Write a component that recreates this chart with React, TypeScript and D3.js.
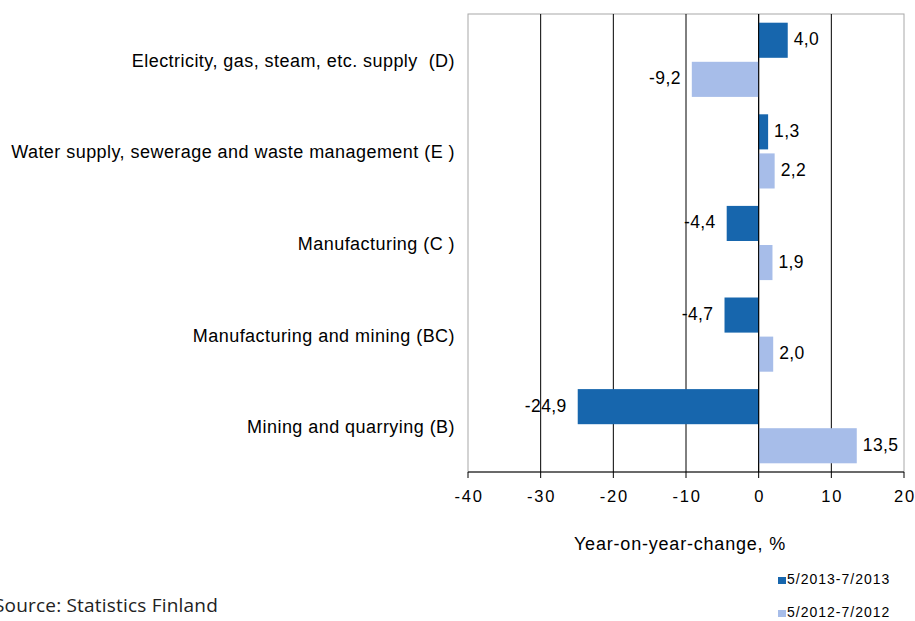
import React from "react";
import * as d3 from "d3";

const categories = [
  "Electricity, gas, steam, etc. supply  (D)",
  "Water supply, sewerage and waste management (E )",
  "Manufacturing (C )",
  "Manufacturing and mining (BC)",
  "Mining and quarrying (B)",
];
const series2013 = [4.0, 1.3, -4.4, -4.7, -24.9];
const series2012 = [-9.2, 2.2, 1.9, 2.0, 13.5];
const seriesNames = ["5/2013-7/2013", "5/2012-7/2012"];
const seriesColors = ["#1766AD", "#A7BDE9"];
const xTicks = [-40, -30, -20, -10, 0, 10, 20];

const W = 915;
const H = 621;
const left = 468;
const right = 904;
const top = 14;
const bottom = 472;
const font = "'Liberation Sans', Arial, sans-serif";

export default function App() {
  const x = d3.scaleLinear().domain([-40, 20]).range([left, right]);
  const band = d3
    .scaleBand<number>()
    .domain(d3.range(categories.length))
    .range([top, bottom])
    .paddingInner(0.19)
    .paddingOuter(0.095);
  const bw = band.bandwidth();
  const gap = 4;
  const bh = (bw - gap) / 2;
  const fmt = (v: number) => v.toFixed(1).replace(".", ",");
  const allSeries = [series2013, series2012];

  return (
    <svg
      width={W}
      height={H}
      style={{ position: "absolute", left: 0, top: 0, background: "#fff" }}
    >
      {/* frame */}
      <rect x={left} y={top} width={right - left} height={bottom - top} fill="none" stroke="#a8a8a8" strokeWidth={1} />
      {/* gridlines */}
      {xTicks.slice(1, -1).map((t) => (
        <line key={t} x1={x(t)} x2={x(t)} y1={top} y2={bottom} stroke="#000" strokeWidth={1} />
      ))}
      {/* bars */}
      {categories.map((c, i) =>
        allSeries.map((s, j) => {
          const v = s[i];
          const y0 = (band(i) as number) + j * (bh + gap);
          const x0 = Math.min(x(0), x(v));
          const w = Math.abs(x(v) - x(0));
          return (
            <g key={`${i}-${j}`}>
              <rect x={x0} y={y0} width={w} height={bh} fill={seriesColors[j]} />
              <text
                x={v >= 0 ? x(v) + 6 : x(v) - 11}
                y={y0 + bh / 2 + 5}
                textAnchor={v >= 0 ? "start" : "end"}
                fontFamily={font}
                fontSize={17.5}
                letterSpacing={0.4}
                fill="#000"
              >
                {fmt(v)}
              </text>
            </g>
          );
        })
      )}
      {/* zero line on top */}
      <line x1={x(0)} x2={x(0)} y1={top} y2={bottom} stroke="#000" strokeWidth={1} />
      {/* category labels */}
      {categories.map((c, i) => (
        <text
          key={c}
          x={455}
          y={(band(i) as number) + bw / 2 + 7}
          textAnchor="end"
          fontFamily={font}
          fontSize={18}
          letterSpacing={0.45}
          fill="#000"
          style={{ whiteSpace: "pre" }}
        >
          {c}
        </text>
      ))}
      {/* x axis */}
      <line x1={left} x2={right} y1={bottom} y2={bottom} stroke="#000" strokeWidth={1} />
      {xTicks.map((t) => (
        <g key={t}>
          <line x1={x(t)} x2={x(t)} y1={bottom} y2={bottom + 6} stroke="#000" />
          <text x={x(t) + 1} y={502} textAnchor="middle" fontFamily={font} fontSize={16.5} letterSpacing={1.8} fill="#000">
            {t}
          </text>
        </g>
      ))}
      <text x={680} y={550} textAnchor="middle" fontFamily={font} fontSize={18} letterSpacing={0.8} fill="#000">
        Year-on-year-change, %
      </text>
      {/* legend */}
      {seriesNames.map((n, j) => (
        <g key={n}>
          <rect x={778} y={577 + j * 33} width={8} height={7} fill={seriesColors[j]} />
          <text x={787} y={584 + j * 33} fontFamily={font} fontSize={14} letterSpacing={1} fill="#000">
            {n}
          </text>
        </g>
      ))}
      {/* source */}
      <text x={218} y={612} textAnchor="end" fontFamily="'Open Sans', 'Noto Sans', sans-serif" fontSize={19} letterSpacing={0.2} fill="#222">
        Source: Statistics Finland
      </text>
    </svg>
  );
}
